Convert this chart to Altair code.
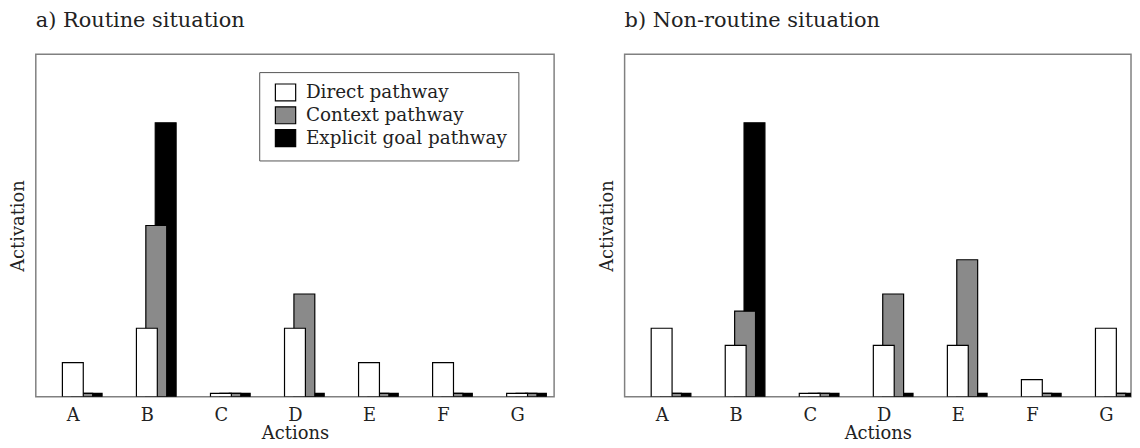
import altair as alt
import pandas as pd

actions = ["A", "B", "C", "D", "E", "F", "G"]
pathways = ["Direct pathway", "Context pathway", "Explicit goal pathway"]

routine_direct = [0.10, 0.20, 0.01, 0.20, 0.10, 0.10, 0.01]
routine_context = [0.01, 0.50, 0.01, 0.30, 0.01, 0.01, 0.01]
routine_goal = [0.01, 0.80, 0.01, 0.01, 0.01, 0.01, 0.01]

nonroutine_direct = [0.20, 0.15, 0.01, 0.15, 0.15, 0.05, 0.20]
nonroutine_context = [0.01, 0.25, 0.01, 0.30, 0.40, 0.01, 0.01]
nonroutine_goal = [0.01, 0.80, 0.01, 0.01, 0.01, 0.01, 0.01]

FONT = "DejaVu Serif"
TXT = "#222222"
PLOT_W = 522
PLOT_H = 345


def long_df(direct, context, goal):
    rows = []
    series = list(enumerate(zip(pathways, [direct, context, goal])))
    # draw order: goal at the back, direct in front
    for k, (name, vals) in reversed(series):
        for i, (a, v) in enumerate(zip(actions, vals)):
            rows.append({"action": a, "idx": i, "pathway": name, "k": k, "activation": v})
    return pd.DataFrame(rows)


legend = alt.Legend(
    title=None, orient="none", legendX=225, legendY=18,
    symbolType="M-1.2,-1H1.2V1H-1.2Z", symbolSize=290, symbolStrokeColor="black",
    symbolStrokeWidth=1.2, symbolOffset=6, labelFontSize=18.5, labelFont=FONT,
    labelColor=TXT, labelOffset=11, labelLimit=400, rowPadding=0, padding=11,
    strokeColor="#555555", fillColor="white",
)


def panel(df, title, width):
    return alt.Chart(df).transform_calculate(
        x0="datum.idx + 0.5 - 0.141 + datum.k * 0.127",
        x1="datum.idx + 0.5 + 0.141 + datum.k * 0.127",
    ).mark_bar(stroke="black", strokeWidth=1.2, clip=True).encode(
        x=alt.X("x0:Q", scale=alt.Scale(domain=[0, 7 * width / PLOT_W], nice=False, zero=False),
                axis=alt.Axis(values=[0.5, 1.5, 2.5, 3.5, 4.5, 5.5, 6.5],
                              labelExpr="['A','B','C','D','E','F','G'][floor(datum.value)]",
                              ticks=False, domain=False, grid=False, title="Actions",
                              labelFlush=False, labelOverlap=False, labelPadding=10,
                              titlePadding=0, labelFontSize=18, titleFontSize=18,
                              labelFont=FONT, titleFont=FONT, labelColor=TXT,
                              titleColor=TXT, titleFontWeight="normal")),
        x2="x1:Q",
        y=alt.Y("activation:Q", stack=None,
                scale=alt.Scale(domain=[0, 1], nice=False),
                axis=alt.Axis(labels=False, ticks=False, domain=False, grid=False,
                              title="Activation", titlePadding=8, titleFontSize=18,
                              titleFont=FONT, titleColor=TXT, titleFontWeight="normal")),
        y2=alt.datum(0),
        color=alt.Color("pathway:N", sort=pathways,
                        scale=alt.Scale(domain=pathways, range=["white", "#8a8a8a", "black"]),
                        legend=legend),
    ).properties(
        width=width, height=PLOT_H,
        title=alt.TitleParams(title, anchor="start", frame="group", fontSize=21, font=FONT,
                              fontWeight="normal", color=TXT, offset=23),
    )


left = panel(long_df(routine_direct, routine_context, routine_goal),
             "a) Routine situation", PLOT_W)
right = panel(long_df(nonroutine_direct, nonroutine_context, nonroutine_goal),
              "b) Non-routine situation", 510)

chart = alt.hconcat(left, right, spacing=43).properties(
    padding={"left": 1, "top": 0, "right": 0, "bottom": 0}
).configure(font=FONT).configure_view(stroke="#808080", strokeWidth=1.5)

chart.save("out.html", embed_options={"renderer": "svg", "actions": False})
